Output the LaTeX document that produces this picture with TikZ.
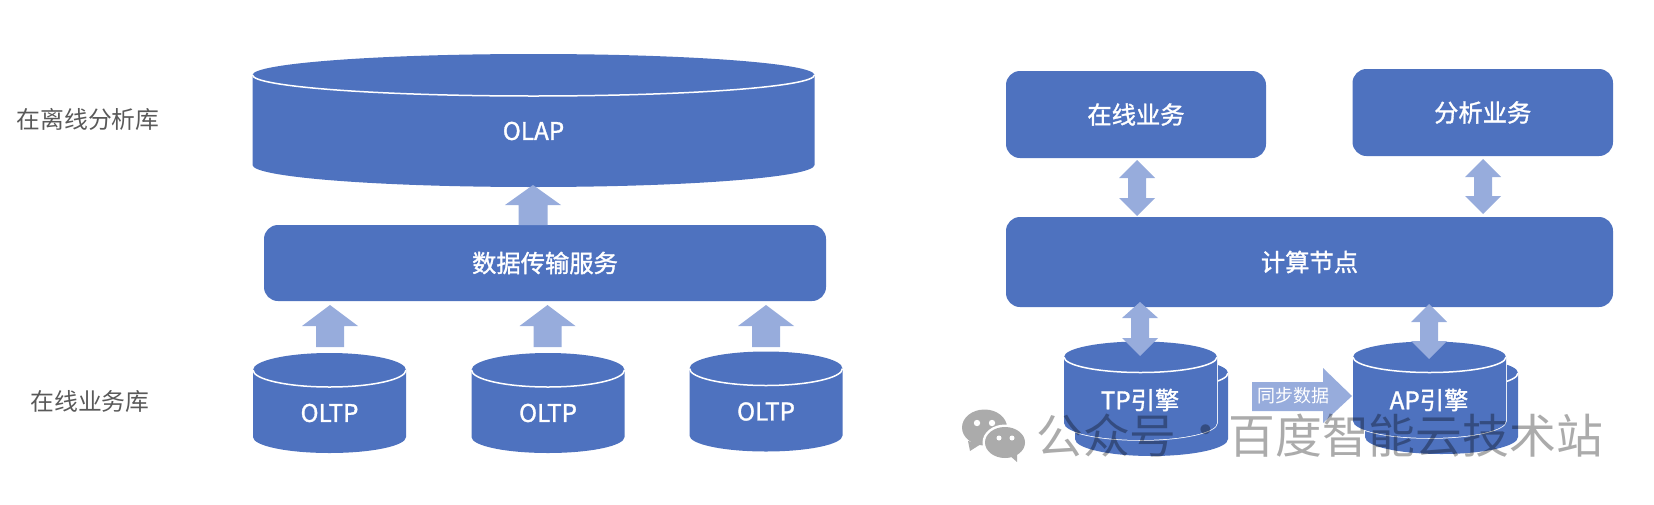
\documentclass[tikz,border=0pt]{standalone}
\usepackage{fontspec}
\setmainfont{Noto Sans CJK SC}
\newfontfamily\heavyface[FakeBold=1.3]{Noto Sans CJK SC}
\definecolor{dbblue}{RGB}{78,114,191}
\definecolor{flowblue}{RGB}{151,172,220}
\definecolor{caption}{RGB}{89,89,89}
\tikzset{
  x=1pt, y=-1pt,
  panel/.style={fill=dbblue, rounded corners=14pt},
  flow/.style={fill=flowblue},
  whitetext/.style={text=white, font=\heavyface\fontsize{24.3}{24}\selectfont, inner sep=0pt},
  sidelabel/.style={text=caption, font=\fontsize{23.8}{24}\selectfont, inner sep=0pt},
  rim/.style={draw=white, line width=1.5pt},
  marktext/.style={text=black, text opacity=.33, inner sep=0pt, font=\fontsize{46.8}{46}\selectfont},
}
% Cylinder: centre x, half width, top-ellipse centre y, ellipse ry, side bottom y, bottom ry
\newcommand{\dbcyl}[6]{%
  \fill[dbblue] (#1-#2,#3) arc[start angle=180,end angle=0,x radius=#2,y radius=-#4]
    -- (#1+#2,#5) arc[start angle=0,end angle=-180,x radius=#2,y radius=-#6] -- cycle;
  \draw[rim] (#1-#2,#3) arc[start angle=180,end angle=360,x radius=#2,y radius=-#4];
}
% Upward block arrow: x, tip y, head base y, tail y, head half width, shaft half width
\newcommand{\uparrowblock}[6]{%
  \fill[flow] (#1,#2) -- (#1+#5,#3) -- (#1+#6,#3) -- (#1+#6,#4) -- (#1-#6,#4) -- (#1-#6,#3) -- (#1-#5,#3) -- cycle;
}
% Vertical double block arrow: x, top tip, upper base, lower base, bottom tip, head half, shaft half
\newcommand{\dblarrow}[7]{%
  \fill[flow] (#1,#2) -- (#1+#6,#3) -- (#1+#7,#3) -- (#1+#7,#4) -- (#1+#6,#4) -- (#1,#5)
    -- (#1-#6,#4) -- (#1-#7,#4) -- (#1-#7,#3) -- (#1-#6,#3) -- cycle;
}
\begin{document}
\begin{tikzpicture}
\useasboundingbox (0,0) rectangle (1654,504);

% Left stack
\dbcyl{533.5}{281}{75}{21}{165}{22}
\node[whitetext] (olap) at (533.5,131) {OLAP};
\node[panel, minimum width=562pt, minimum height=76pt] (transfer) at (545,263) {};
\node[whitetext] (transferlabel) at (transfer.center) {数据传输服务};
\uparrowblock{533}{185}{205}{225}{28}{14.5}
\foreach \cx/\lift/\name in {329.5/0/a, 548/0/b, 766/1.5/c}{
  \dbcyl{\cx}{76.5}{370-\lift}{17}{437-\lift}{16}
  \node[whitetext] (oltp\name) at (\cx,413-\lift) {OLTP};
}
\foreach \cx in {330,547.5,766}{
  \uparrowblock{\cx}{305}{326}{347}{28}{14}
}
\node[sidelabel] (offline) at (88,119) {在离线分析库};
\node[sidelabel] (online) at (90,401) {在线业务库};

% Right stack
\node[panel, minimum width=260pt, minimum height=87pt] (svc) at (1136,114.5) {};
\node[whitetext] at (svc.center) {在线业务};
\node[panel, minimum width=260.5pt, minimum height=87pt] (ana) at (1482.75,112.5) {};
\node[whitetext] at (ana.center) {分析业务};
\node[panel, minimum width=607pt, minimum height=90pt] (calc) at (1309.5,262) {};
\node[whitetext] at (calc.center) {计算节点};
\dblarrow{1137}{160}{178}{198}{216}{18}{9}
\dblarrow{1483}{159}{177}{196}{214}{18}{9}

% Engines: a back cylinder offset behind each front one
\foreach \cx/\bottom in {1151.5/423, 1441.5/421}{
  \dbcyl{\cx}{76.5}{373}{16}{\bottom+16}{17}
}
\foreach \cx/\bottom in {1140.5/423, 1429.5/421}{
  \fill[dbblue] (\cx-76.5,357) -- (\cx+76.5,357) -- (\cx+76.5,\bottom) arc[start angle=0,end angle=-180,x radius=76.5,y radius=-17] -- cycle;
  \draw[rim] (\cx+76.5,357) -- (\cx+76.5,\bottom) arc[start angle=0,end angle=-180,x radius=76.5,y radius=-17];
  \dbcyl{\cx}{76.5}{357}{15.5}{\bottom}{17}
}
\node[whitetext] (tp) at (1140,400) {TP引擎};
\node[whitetext] (ap) at (1429,400) {AP引擎};
\dblarrow{1140}{302}{318}{338}{356}{18}{9}
\dblarrow{1429}{304}{322}{341}{359}{18}{9}

% Sync arrow between the engines
\fill[flow] (1252,382) -- (1323,382) -- (1323,368) -- (1352,396) -- (1323,423) -- (1323,411) -- (1252,411) -- cycle;
\node[text=white, inner sep=0pt, font=\fontsize{18}{18}\selectfont] (sync) at (1293,396) {同步数据};

% Account mark
\node[marktext, anchor=west] (markleft) at (1036,436) {公众号};
\node[marktext] (markdot) at (1206,436) {·};
\node[marktext, anchor=east] (markright) at (1603,436) {百度智能云技术站};
\fill[black!33] (984.5,427.5) ellipse[x radius=22.5, y radius=18];
\fill[black!33] (968,441) -- (970,451) -- (981,444) -- cycle;
\fill[white] (1005,442.5) ellipse[x radius=22.5, y radius=18];
\fill[black!33] (1005,442.5) ellipse[x radius=20, y radius=15.5];
\fill[black!33] (1009,455) -- (1017,462) -- (1017,452) -- cycle;
\fill[white] (977,423) circle[radius=3.2] (992,423) circle[radius=3.2] (999,438) circle[radius=2.5] (1012,438) circle[radius=2.5];
\end{tikzpicture}
\end{document}
